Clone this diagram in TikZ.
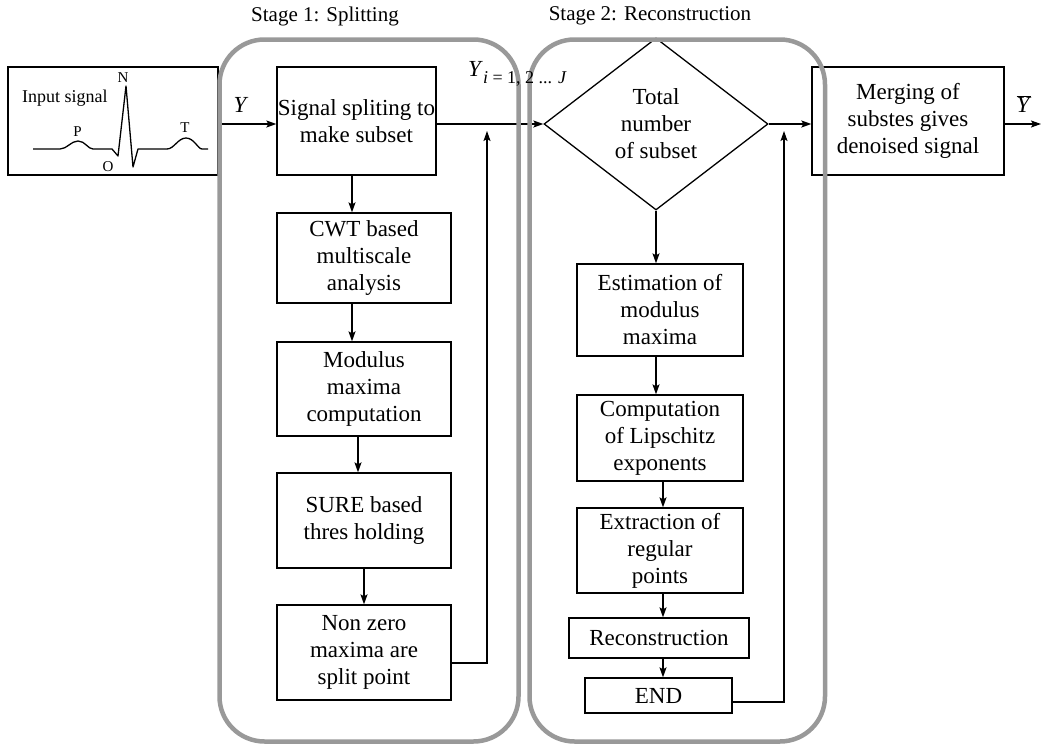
\documentclass[tikz,border=0pt]{standalone}
\usepackage{fontspec}
\setmainfont{Liberation Serif}
\usetikzlibrary{shapes.geometric,arrows.meta}
\begin{document}
\begin{tikzpicture}[x=1pt,y=-1pt,
 box/.style={draw,line width=1.3pt,inner sep=0pt,align=center,font=\fontsize{23}{27}\selectfont},
 frame/.style={draw=black!40,line width=4.5pt,rounded corners=45pt},
 arr/.style={line width=1.3pt,-{Stealth[length=10pt,width=7pt,inset=2pt]}},
 lin/.style={line width=1.3pt},
 lbl/.style={font=\fontsize{15}{15}\selectfont,inner sep=0pt},
 ttl/.style={font=\fontsize{21}{24}\selectfont},
]
\useasboundingbox (0,0) rectangle (1042,747);

% input box with ECG
\node[box,minimum width=210pt,minimum height=108pt] (inp) at (113,121) {};
\node[font=\fontsize{18}{20}\selectfont,anchor=west,inner sep=0pt] (inlab) at (22,98) {Input signal};
\draw[lin,line join=round] (33,149) -- (60,149)
  .. controls (67,149) and (71,141) .. (78,141)
  .. controls (85,141) and (88,149) .. (93,149)
  -- (112,149) -- (118,156) -- (126,86) -- (133,167) -- (138,149) -- (167,149)
  .. controls (174,149) and (178,138) .. (186,138)
  .. controls (194,138) and (198,149) .. (202,149) -- (208,149);
\node[lbl] (lN) at (123,78) {N};
\node[lbl] (lP) at (77.5,132) {P};
\node[lbl] (lO) at (108,167) {O};
\node[lbl] (lT) at (185,128) {T};

% stage 1 boxes
\node[box,minimum width=159pt,minimum height=108pt] (b1) at (356.5,121) {Signal spliting to\\make subset};
\node[box,minimum width=174pt,minimum height=90pt] (b2) at (364,258) {CWT based\\multiscale\\analysis};
\node[box,minimum width=174pt,minimum height=94pt] (b3) at (364,389) {Modulus\\maxima\\computation};
\node[box,minimum width=174pt,minimum height=95pt] (b4) at (364,520.5) {SURE based\\thres holding};
\node[box,minimum width=174pt,minimum height=95pt] (b5) at (364,652.5) {Non zero\\maxima are\\split point};

% stage 2
\node[box,diamond,aspect=1.3,minimum width=224pt,minimum height=172pt] (dia) at (656,124) {Total\\number\\of subset};
\node[box,minimum width=166pt,minimum height=92pt] (c1) at (660,310) {Estimation of\\modulus\\maxima};
\node[box,minimum width=166pt,minimum height=86pt] (c2) at (660,438) {Computation\\of Lipschitz\\exponents};
\node[box,minimum width=166pt,minimum height=85pt] (c3) at (660,550.5) {Extraction of\\regular\\points};
\node[box,minimum width=180pt,minimum height=40pt] (c4) at (659,638) {Reconstruction};
\node[box,minimum width=147pt,minimum height=35pt] (c5) at (658.5,695.5) {END};

% merge
\node[box,minimum width=192pt,minimum height=108pt] (m) at (908,121) {Merging of\\substes gives\\denoised signal};

% labels
\node[ttl] (t1) at (325,16) {Stage 1: Splitting};
\node[ttl] (t2) at (650,16) {Stage 2: Reconstruction};
\node[font=\fontsize{23}{27}\selectfont\itshape] (ylab) at (240,105) {Y};
\node[font=\fontsize{23}{27}\selectfont] (ybar) at (1024,104) {$\overline{\mbox{\textit{Y}}}$};

% coordinates
\coordinate (mainy) at (0,124);
\coordinate (out) at (1041,124);
\coordinate (xa) at (352,0);
\coordinate (xb) at (358,0);
\coordinate (xc) at (364,0);
\coordinate (xd) at (663,0);
\coordinate (r1b) at (487,663);
\coordinate (r1t) at (487,131);
\coordinate (r2b) at (784,702);
\coordinate (r2t) at (784,131);

% connectors
\draw[arr] (inp.east |- mainy) -- (b1.west |- mainy);
\draw[arr] (b1.east |- mainy) -- (dia.west);
\draw[arr] (dia.east) -- (m.west |- mainy);
\draw[arr] (m.east |- mainy) -- (out);
\draw[arr] (b1.south -| xa) -- (b2.north -| xa);
\draw[arr] (b2.south -| xa) -- (b3.north -| xa);
\draw[arr] (b3.south -| xb) -- (b4.north -| xb);
\draw[arr] (b4.south -| xc) -- (b5.north -| xc);
\draw[arr] (b5.east |- r1b) -- (r1b) -- (r1t);
\draw[arr] (dia.south) -- (dia.south |- c1.north);
\draw[arr] (c1.south -| dia.south) -- (c2.north -| dia.south);
\draw[arr] (c2.south -| xd) -- (c3.north -| xd);
\draw[arr] (c3.south -| xd) -- (c4.north -| xd);
\draw[arr] (c4.south -| xd) -- (c5.north -| xd);
\draw[arr] (c5.east |- r2b) -- (r2b) -- (r2t);

% stage frames
\draw[frame] (219.5,39.5) rectangle (518.5,741.5);
\draw[frame] (529.5,39.5) rectangle (825,741.5);

% label drawn over the frames
\node[anchor=base west,font=\fontsize{23}{27}\selectfont,inner sep=0pt] (yilab) at (468,76) {\textit{Y}\raisebox{-7pt}{\fontsize{18}{18}\selectfont\textit{i} = 1, 2 ... \textit{J}}};
\end{tikzpicture}
\end{document}
